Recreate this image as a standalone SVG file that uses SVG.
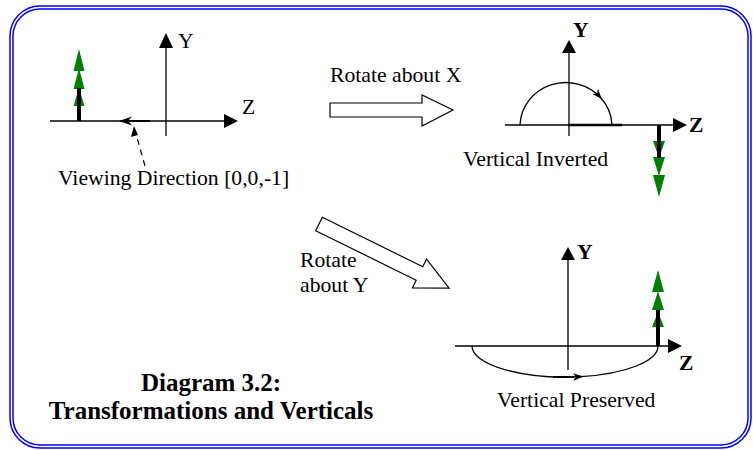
<svg xmlns="http://www.w3.org/2000/svg" width="753" height="450" viewBox="0 0 753 450">
<style>
.frame{fill:none;stroke:#0000ff;stroke-width:1.5}
.ax{stroke:#000;stroke-width:1.3;fill:none}
.head{fill:#000;stroke:none}
.thick{stroke:#000;stroke-width:2.5;fill:none}
.vbar{stroke:#000;stroke-width:4;fill:none}
.grn{fill:#008000;stroke:none}
.t{font-family:"Liberation Serif","Times New Roman",Times,serif;font-size:21.7px;fill:#000}
.tb{font-family:"Liberation Serif","Times New Roman",Times,serif;font-size:21.5px;font-weight:bold;fill:#000}
.title{font-family:"Liberation Serif","Times New Roman",Times,serif;font-size:25px;font-weight:bold;fill:#000;text-anchor:middle}
.hollow{fill:#fff;stroke:#000;stroke-width:1.2}
.dash{stroke:#000;stroke-width:1.2;stroke-dasharray:6,5;fill:none}
</style>
<defs>
<marker id="ah" viewBox="0 0 10 8" refX="9" refY="4" markerWidth="10" markerHeight="8" markerUnits="userSpaceOnUse" orient="auto">
<path d="M0,0 L10,4 L0,8 L3,4 Z" fill="#000"/>
</marker>
</defs>
<g id="frame">
<rect class="frame" x="10" y="6" width="741" height="442" rx="30" ry="30"/>
<rect class="frame" x="13" y="9" width="735" height="436" rx="27" ry="27"/>
</g>
<g id="panel1">
<line class="ax" x1="166" y1="46" x2="166" y2="136"/>
<polygon class="head" points="166,33 159,48 173,48"/>
<line class="ax" x1="50" y1="121" x2="226" y2="121"/>
<polygon class="head" points="238,121 224,114 224,128"/>
<text class="t" x="178" y="48">Y</text>
<text class="t" x="242" y="114">Z</text>
<polygon class="grn" points="79,49 73.5,71 84.5,71"/>
<polygon class="grn" points="79,68 73.5,89 84.5,89"/>
<polygon class="grn" points="79,88 73.5,106 84.5,106"/>
<line class="vbar" x1="79" y1="121" x2="79" y2="88"/>
</g>
<g id="viewing">
<line class="thick" x1="150" y1="121" x2="126" y2="121" style="stroke-width:2"/>
<polygon class="head" points="119,121 132,116.5 128,121 132,125.5"/>
<line class="dash" x1="145" y1="166" x2="136" y2="134"/>
<polygon class="head" points="134,126 131,137 138,135"/>
<text class="t" x="58" y="185">Viewing Direction [0,0,-1]</text>
</g>
<g id="rotateX">
<polygon class="hollow" points="330,103 422,103 422,95 453,110 422,126 422,117 330,117"/>
<text class="t" x="330" y="82">Rotate about X</text>
</g>
<g id="panel2">
<line class="ax" x1="569" y1="52" x2="569" y2="136"/>
<polygon class="head" points="569,40 562,53 576,53"/>
<line class="ax" x1="505" y1="125" x2="675" y2="125"/>
<polygon class="head" points="687,125 673,118 673,132"/>
<line class="thick" x1="568" y1="125" x2="622" y2="125"/>
<path class="ax" d="M520,125 A46,44 0 0 1 601,98" marker-end="url(#ah)"/>
<path class="ax" d="M600,97 A46,44 0 0 1 612,125"/>
<text class="tb" x="573" y="37">Y</text>
<text class="tb" x="689" y="132">Z</text>
<polygon class="grn" points="659,158 653,141 665,141"/>
<polygon class="grn" points="659,176 653,157 665,157"/>
<polygon class="grn" points="659,197 653,175 665,175"/>
<line class="vbar" x1="659" y1="125" x2="659" y2="158"/>
<text class="t" x="463" y="166">Vertical Inverted</text>
</g>
<g id="rotateY">
<polygon class="hollow" transform="translate(319,224) rotate(26.2)" points="0,-7.5 112,-7.5 112,-16 145,0 112,16 112,7.5 0,7.5"/>
<text class="t" x="300" y="267">Rotate</text>
<text class="t" x="300" y="292">about Y</text>
</g>
<g id="panel3">
<line class="ax" x1="568" y1="258" x2="568" y2="370"/>
<polygon class="head" points="568,247 561,260 575,260"/>
<line class="ax" x1="455" y1="346" x2="670" y2="346"/>
<polygon class="head" points="682,346 668,339 668,353"/>
<path class="ax" d="M472,346 A93,31 0 0 0 582,376.5" marker-end="url(#ah)"/>
<path class="ax" d="M581,376.6 A93,31 0 0 0 658,346"/>
<line class="thick" x1="553" y1="377" x2="574" y2="377" style="stroke-width:2"/>
<text class="tb" x="577" y="259">Y</text>
<text class="tb" x="679" y="370">Z</text>
<polygon class="grn" points="658,270 652,292 664,292"/>
<polygon class="grn" points="658,291 652,310 664,310"/>
<polygon class="grn" points="658,312 652,327 664,327"/>
<line class="vbar" x1="658" y1="346" x2="658" y2="310"/>
<text class="t" x="497" y="407">Vertical Preserved</text>
</g>
<g id="title">
<text class="title" x="211" y="391">Diagram 3.2:</text>
<text class="title" x="211" y="419">Transformations and Verticals</text>
</g>
</svg>
